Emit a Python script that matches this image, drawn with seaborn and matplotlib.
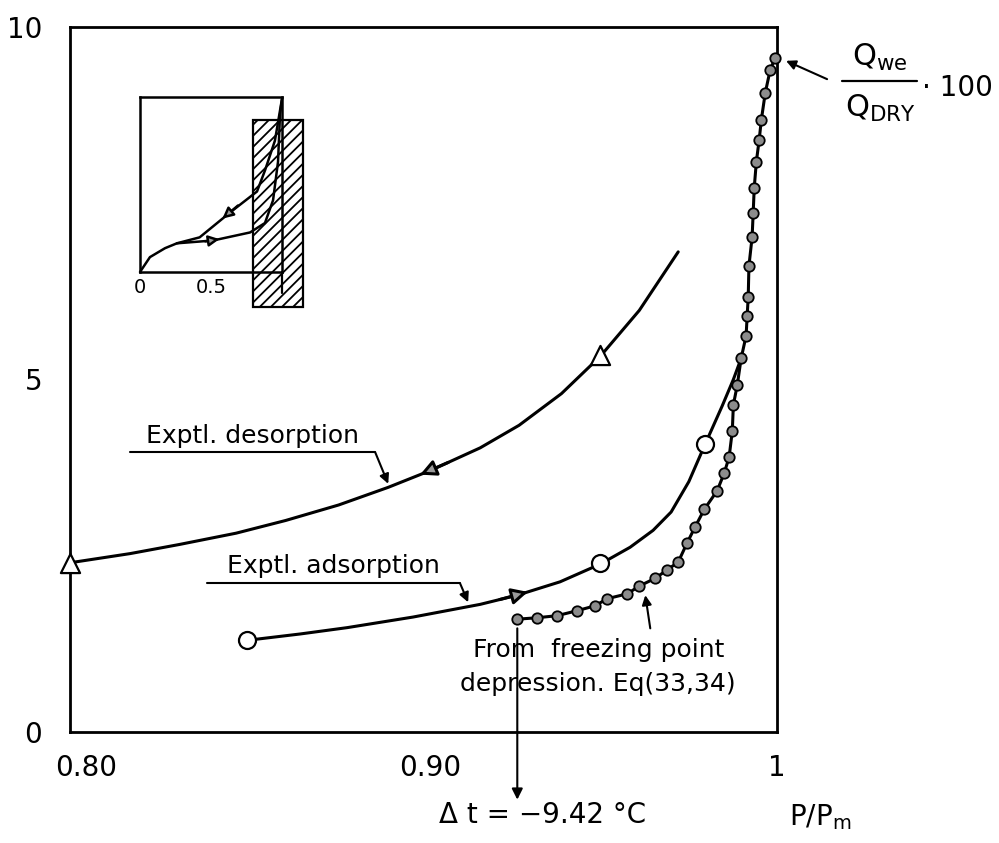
import numpy as np
import pandas as pd
import matplotlib
matplotlib.use("Agg")
import matplotlib.pyplot as plt
import matplotlib.transforms as mtransforms
import seaborn as sns
from matplotlib.patches import Rectangle
from matplotlib.lines import Line2D

# ---------------- data ----------------
# Experimental desorption curve (relative pressure vs. Qwe/Qdry*100)
desorp_x = [0.800, 0.817, 0.831, 0.847, 0.861, 0.876, 0.890, 0.902,
            0.916, 0.927, 0.939, 0.950, 0.961, 0.972]
desorp_y = [2.40, 2.53, 2.66, 2.82, 3.00, 3.22, 3.47, 3.71,
            4.03, 4.35, 4.80, 5.33, 5.98, 6.81]
desorp_pts_x = [0.800, 0.950]
desorp_pts_y = [2.40, 5.35]

# Experimental adsorption curve
adsorp_x = [0.8501, 0.8651, 0.8784, 0.8970, 0.9160, 0.9265, 0.9386, 0.9499,
            0.9584, 0.9649, 0.9700, 0.9750, 0.9796, 0.9844, 0.9876, 0.9898]
adsorp_y = [1.30, 1.39, 1.48, 1.63, 1.81, 1.94, 2.13, 2.38,
            2.62, 2.86, 3.12, 3.55, 4.08, 4.62, 5.00, 5.30]
adsorp_pts_x = [0.8501, 0.9499, 0.9796]
adsorp_pts_y = [1.30, 2.39, 4.08]

# From freezing point depression, Eq(33,34)
fp_x = [0.9265, 0.9321, 0.9378, 0.9434, 0.9485, 0.9519, 0.9576, 0.9610,
        0.9655, 0.9689, 0.9720, 0.9745, 0.9768, 0.9794, 0.9830, 0.9850,
        0.9864, 0.9873, 0.9876, 0.9887, 0.9898, 0.9912, 0.9915, 0.9918,
        0.9920, 0.9929, 0.9932, 0.9935, 0.9941, 0.9949, 0.9955, 0.9966,
        0.9980, 0.9994]
fp_y = [1.60, 1.62, 1.65, 1.72, 1.79, 1.89, 1.96, 2.07,
        2.18, 2.30, 2.41, 2.68, 2.91, 3.16, 3.42, 3.67,
        3.90, 4.27, 4.64, 4.92, 5.30, 5.62, 5.90, 6.17,
        6.61, 7.02, 7.36, 7.72, 8.09, 8.40, 8.68, 9.06,
        9.39, 9.56]

# Ticks
x_ticks = [0.80, 0.90, 1.00]
x_ticklabels = ["0.80", "0.90", "1"]
y_ticks = [0, 5, 10]
y_ticklabels = ["0", "5", "10"]

# Inset: full isotherm sketch (normalised)
inset_ads_x = [0.0, 0.07, 0.176, 0.26, 0.514, 0.775, 0.88, 0.937, 0.972, 0.986, 1.0]
inset_ads_y = [0.0, 0.085, 0.136, 0.164, 0.18, 0.226, 0.28, 0.41, 0.63, 0.90, 0.99]
inset_des_x = [1.0, 0.95, 0.88, 0.824, 0.634, 0.42, 0.26]
inset_des_y = [0.99, 0.75, 0.58, 0.46, 0.34, 0.198, 0.164]
inset_ticks = [0, 0.5]
inset_ticklabels = ["0", "0.5"]

# ---------------- styling ----------------
sns.set_theme(style="white")
plt.rcParams["font.family"] = ["DejaVu Sans"]
plt.rcParams["axes.edgecolor"] = "black"
plt.rcParams["hatch.linewidth"] = 1.3
plt.rcParams["hatch.color"] = "black"

LW = 2.2
K = "black"

fig = plt.figure(figsize=(9.99, 8.43), dpi=100)
ax = fig.add_axes([0.070, 0.1317, 0.708, 0.8363])

# curves
sns.lineplot(x=desorp_x, y=desorp_y, ax=ax, sort=False, estimator=None,
             color=K, lw=LW, clip_on=False)
sns.lineplot(x=adsorp_x, y=adsorp_y, ax=ax, sort=False, estimator=None,
             color=K, lw=LW, clip_on=False)
sns.lineplot(x=fp_x, y=fp_y, ax=ax, sort=False, estimator=None,
             color=K, lw=LW, marker="o", markersize=7.5,
             markerfacecolor="#8c8c8c", markeredgecolor=K,
             markeredgewidth=1.3, clip_on=False, zorder=4)

# experimental points
sns.scatterplot(x=desorp_pts_x, y=desorp_pts_y, ax=ax, marker="^", s=190,
                color="white", edgecolor=K, linewidth=1.6, zorder=6, clip_on=False)
sns.scatterplot(x=adsorp_pts_x, y=adsorp_pts_y, ax=ax, marker="o", s=150,
                color="white", edgecolor=K, linewidth=1.6, zorder=6, clip_on=False)

# direction arrowheads on the curves
head = dict(arrowstyle="-|>", lw=LW, color=K, fc="#9a9a9a",
            mutation_scale=24, shrinkA=0, shrinkB=0)
ax.annotate("", xy=(0.8990, 3.65), xytext=(0.9070, 3.824), arrowprops=head)
ax.annotate("", xy=(0.9295, 1.987), xytext=(0.9215, 1.878), arrowprops=head)

ax.set_xlim(0.80, 1.00)
ax.set_ylim(0, 10)
ax.set_xticks(x_ticks)
ax.set_xticklabels(x_ticklabels)
ax.set_yticks(y_ticks)
ax.set_yticklabels(y_ticklabels)
ax.tick_params(axis="both", direction="in", length=6, width=1.5,
               labelsize=20, colors=K)
ax.tick_params(axis="x", pad=16)
ax.tick_params(axis="y", pad=20)
for sp in ax.spines.values():
    sp.set_linewidth(2.0)
    sp.set_color(K)
ax.set_xlabel("")
ax.set_ylabel("")

# hand-lettered tick labels sit slightly right of their ticks
for lab, dx in zip(ax.get_xticklabels(), [16, 7, 0]):
    lab.set_transform(lab.get_transform() +
                      mtransforms.ScaledTranslation(dx / 100, 0, fig.dpi_scale_trans))

# labels with underline + pointer
small = dict(arrowstyle="-|>", lw=1.5, color=K, mutation_scale=14,
             shrinkA=0, shrinkB=0)
ax.text(0.8515, 4.20, "Exptl. desorption", ha="center", va="center",
        fontsize=18, color=K)
ax.add_line(Line2D([0.817, 0.8863], [3.97, 3.97], lw=1.5, color=K))
ax.annotate("", xy=(0.8900, 3.52), xytext=(0.8863, 3.97), arrowprops=small)

ax.text(0.8745, 2.35, "Exptl. adsorption", ha="center", va="center",
        fontsize=18, color=K)
ax.add_line(Line2D([0.8388, 0.9103], [2.11, 2.11], lw=1.5, color=K))
ax.annotate("", xy=(0.9126, 1.84), xytext=(0.9103, 2.11), arrowprops=small)

ax.text(0.9494, 0.92, "From  freezing point\ndepression. Eq(33,34)",
        ha="center", va="center", fontsize=18, color=K, linespacing=1.55,
        zorder=7)
ax.annotate("", xy=(0.9627, 1.94), xytext=(0.9641, 1.47), arrowprops=small)

# vertical arrow to delta-t
vert = dict(arrowstyle="-|>", lw=1.5, color=K, mutation_scale=16,
            shrinkA=0, shrinkB=0, clip_on=False)
ax.annotate("", xy=(0.9265, -0.96), xytext=(0.9265, 1.47),
            arrowprops=vert, annotation_clip=False)

# Q arrow
ax.annotate("", xy=(1.0025, 9.52), xytext=(1.0141, 9.26),
            arrowprops=dict(arrowstyle="-|>", lw=1.5, color=K,
                            mutation_scale=14, shrinkA=0, shrinkB=0,
                            clip_on=False),
            annotation_clip=False)

# outside texts (figure coordinates)
fig.text(543 / 999, 1 - 815 / 843, "Δ t = −9.42 °C", ha="center", va="center",
         fontsize=20, color=K)
fig.text(820 / 999, 1 - 817 / 843, r"P/P$_{\mathregular{m}}$", ha="center",
         va="center", fontsize=20, color=K)
fig.text(880 / 999, 1 - 57 / 843, r"Q$_{\mathregular{we}}$", ha="center",
         va="center", fontsize=22, color=K)
fig.text(880 / 999, 1 - 108 / 843, r"Q$_{\mathregular{DRY}}$", ha="center",
         va="center", fontsize=22, color=K)
fig.add_artist(Line2D([842 / 999, 917 / 999], [1 - 81 / 843, 1 - 81 / 843],
                      lw=1.6, color=K))
fig.text(922 / 999, 1 - 88 / 843, "· 100", ha="left", va="center",
         fontsize=20, color=K)

# ---------------- inset ----------------
ins = fig.add_axes([140 / 999, 1 - 272 / 843, 142 / 999, 175 / 843])
sns.lineplot(x=inset_ads_x, y=inset_ads_y, ax=ins, sort=False, estimator=None,
             color=K, lw=1.8, clip_on=False)
sns.lineplot(x=inset_des_x, y=inset_des_y, ax=ins, sort=False, estimator=None,
             color=K, lw=1.8, clip_on=False)
ihead = dict(arrowstyle="-|>", lw=1.8, color=K, fc="#9a9a9a",
             mutation_scale=16, shrinkA=0, shrinkB=0)
ins.annotate("", xy=(0.56, 0.188), xytext=(0.46, 0.175), arrowprops=ihead)
ins.annotate("", xy=(0.58, 0.305), xytext=(0.69, 0.38), arrowprops=ihead)
ins.add_patch(Rectangle((0.796, -0.198), 0.352, 1.068, fill=False,
                        hatch="///", edgecolor=K, lw=1.6, clip_on=False,
                        zorder=1))
ins.add_line(Line2D([1.0, 1.0], [0.0, -0.12], lw=1.6, color=K, clip_on=False))
ins.set_xlim(0, 1)
ins.set_ylim(0, 1)
ins.set_xticks(inset_ticks)
ins.set_xticklabels(inset_ticklabels)
ins.set_yticks([])
ins.tick_params(axis="x", direction="in", length=4, width=1.3,
                labelsize=14, pad=4, colors=K)
for sp in ins.spines.values():
    sp.set_linewidth(1.8)
    sp.set_color(K)
ins.set_facecolor("none")

fig.savefig("out.png", dpi=100)
